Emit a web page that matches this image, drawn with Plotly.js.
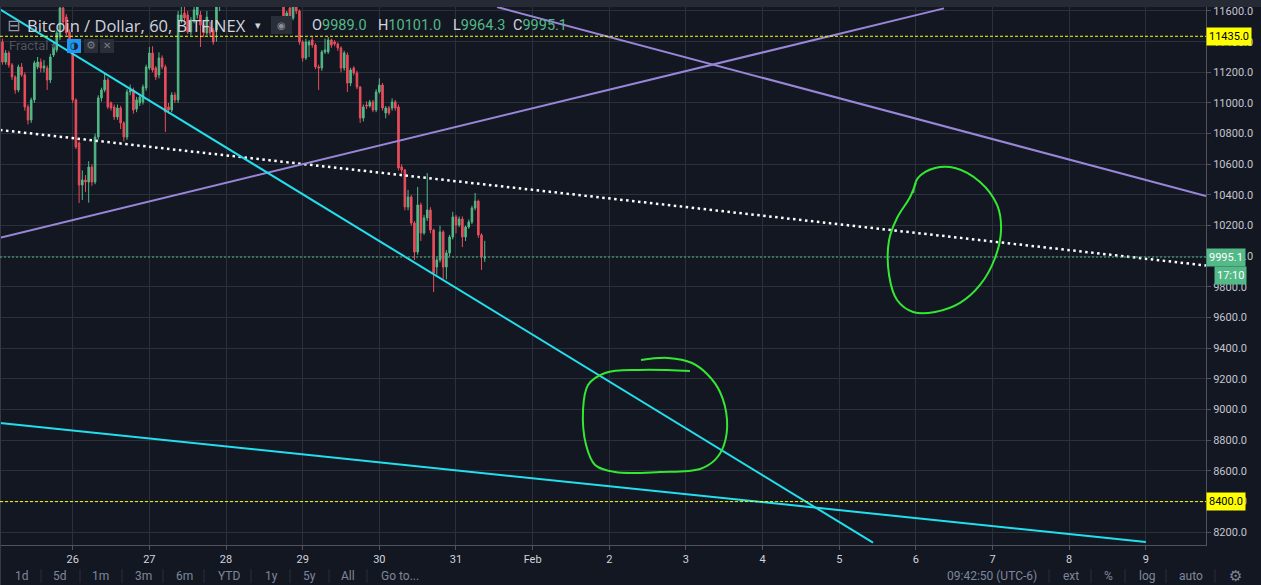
<!DOCTYPE html>
<html><head><meta charset="utf-8">
<script src="https://cdn.plot.ly/plotly-3.0.1.min.js"></script>
<style>html,body{margin:0;padding:0;background:#131722;overflow:hidden}#chart{width:1261px;height:585px}</style>
</head><body><div id="chart"></div>
<script>
// ---- Hourly candles, Bitfinex BTC/USD, 60 min ----
const times = [
'2018-01-25 01','2018-01-25 02','2018-01-25 03','2018-01-25 04','2018-01-25 05','2018-01-25 06','2018-01-25 07','2018-01-25 08','2018-01-25 09','2018-01-25 10','2018-01-25 11','2018-01-25 12','2018-01-25 13','2018-01-25 14','2018-01-25 15','2018-01-25 16','2018-01-25 17','2018-01-25 18','2018-01-25 19','2018-01-25 20','2018-01-25 21','2018-01-25 22','2018-01-25 23',
'2018-01-26 00','2018-01-26 01','2018-01-26 02','2018-01-26 03','2018-01-26 04','2018-01-26 05','2018-01-26 06','2018-01-26 07','2018-01-26 08','2018-01-26 09','2018-01-26 10','2018-01-26 11','2018-01-26 12','2018-01-26 13','2018-01-26 14','2018-01-26 15','2018-01-26 16','2018-01-26 17','2018-01-26 18','2018-01-26 19','2018-01-26 20','2018-01-26 21','2018-01-26 22','2018-01-26 23',
'2018-01-27 00','2018-01-27 01','2018-01-27 02','2018-01-27 03','2018-01-27 04','2018-01-27 05','2018-01-27 06','2018-01-27 07','2018-01-27 08','2018-01-27 09','2018-01-27 10','2018-01-27 11','2018-01-27 12','2018-01-27 13','2018-01-27 14','2018-01-27 15','2018-01-27 16','2018-01-27 17','2018-01-27 18','2018-01-27 19','2018-01-27 20','2018-01-27 21','2018-01-27 22','2018-01-27 23',
'2018-01-28 00','2018-01-28 01','2018-01-28 02','2018-01-28 03','2018-01-28 04','2018-01-28 05','2018-01-28 06','2018-01-28 07','2018-01-28 08','2018-01-28 09','2018-01-28 10','2018-01-28 11','2018-01-28 12','2018-01-28 13','2018-01-28 14','2018-01-28 15','2018-01-28 16','2018-01-28 17','2018-01-28 18','2018-01-28 19','2018-01-28 20','2018-01-28 21','2018-01-28 22','2018-01-28 23',
'2018-01-29 00','2018-01-29 01','2018-01-29 02','2018-01-29 03','2018-01-29 04','2018-01-29 05','2018-01-29 06','2018-01-29 07','2018-01-29 08','2018-01-29 09','2018-01-29 10','2018-01-29 11','2018-01-29 12','2018-01-29 13','2018-01-29 14','2018-01-29 15','2018-01-29 16','2018-01-29 17','2018-01-29 18','2018-01-29 19','2018-01-29 20','2018-01-29 21','2018-01-29 22','2018-01-29 23',
'2018-01-30 00','2018-01-30 01','2018-01-30 02','2018-01-30 03','2018-01-30 04','2018-01-30 05','2018-01-30 06','2018-01-30 07','2018-01-30 08','2018-01-30 09','2018-01-30 10','2018-01-30 11','2018-01-30 12','2018-01-30 13','2018-01-30 14','2018-01-30 15','2018-01-30 16','2018-01-30 17','2018-01-30 18','2018-01-30 19','2018-01-30 20','2018-01-30 21','2018-01-30 22','2018-01-30 23',
'2018-01-31 00','2018-01-31 01','2018-01-31 02','2018-01-31 03','2018-01-31 04','2018-01-31 05','2018-01-31 06','2018-01-31 07','2018-01-31 08','2018-01-31 09'
];
const open = [
11346,11398,11267,11326,11248,11170,11085,11235,11183,10974,10889,11020,11235,11267,11228,11228,11150,11313,11346,11430,11620,11561,11463,
11365,11020,10739,10465,10498,10485,10582,10485,10778,11033,11085,11150,11000,10974,10909,10967,10870,10778,11072,11085,10961,11000,11007,11098,
11228,11326,11228,11183,11293,11235,10974,10954,11052,11020,11541,11587,11574,11463,11541,11574,11574,11509,11457,11495,11476,11476,11640,11720,
11780,11750,11830,11900,11860,11920,11880,11950,11900,11850,11880,11820,11860,11800,11840,11780,11760,11750,11800,11509,11620,11554,11660,11600,
11398,11293,11378,11411,11378,11235,11228,11333,11333,11411,11398,11385,11359,11228,11313,11130,11228,11196,11104,10902,10987,10980,11007,10954,
11072,11117,10935,10967,10967,11007,10974,10582,10563,10322,10387,10217,10028,10335,10152,10250,10302,10172,9930,9976,10159,9930,10022,10126,
10257,10204,10243,10126,10191,10224,10315,10360,10139,9989
];
const high = [
11400,11420,11345,11340,11260,11180,11250,11260,11200,10990,11035,11275,11300,11290,11280,11245,11320,11390,11470,11660,11660,11580,11480,
11380,11030,10750,10560,10530,10620,10600,10800,11050,11100,11196,11165,11010,10990,10990,10980,10880,11090,11120,11100,11040,11050,11120,11250,
11365,11370,11240,11330,11310,11250,11000,11070,11070,11600,11640,11650,11600,11560,11650,11700,11600,11540,11600,11530,11490,11700,11760,11820,
11810,11870,11950,11930,11980,11950,12000,11980,11930,11910,11900,11890,11880,11870,11860,11800,11790,11850,11820,11600,11640,11690,11700,11610,
11410,11420,11410,11430,11390,11250,11345,11420,11430,11420,11410,11395,11370,11340,11330,11230,11240,11210,11110,10990,11010,11020,11020,11090,
11160,11130,10980,10980,11030,11020,10990,10600,10570,10433,10400,10230,10452,10350,10270,10543,10320,10180,9990,10200,10170,10040,10140,10290,
10270,10260,10260,10200,10240,10330,10413,10370,10150,10101
];
const low = [
11320,11250,11250,11230,11150,11060,11070,11170,10950,10860,10870,11000,11220,11200,11200,11085,11130,11300,11330,11410,11510,11440,11360,
11000,10700,10348,10367,10420,10350,10460,10470,10760,11010,11070,10960,10950,10890,10890,10830,10750,10760,11050,10930,10940,10980,10990,11080,
11215,11200,11150,11160,11220,10811,10930,10940,11000,11000,11520,11530,11450,11440,11520,11550,11365,11430,11440,11430,11380,11400,11600,11690,
11720,11730,11800,11820,11840,11850,11860,11870,11820,11800,11790,11790,11770,11760,11740,11720,11700,11700,11490,11490,11540,11540,11580,11380,
11270,11280,11300,11360,11220,11085,11210,11320,11320,11360,11370,11340,11200,11210,11072,11110,11180,11090,10870,10880,10960,10970,10940,10940,
11060,10950,10900,10920,10950,10950,10560,10540,10300,10300,10200,9976,10010,10100,10140,10230,10150,9767,9880,9960,9850,9850,10000,10110,
10150,10190,10060,10100,10180,10210,10300,10120,9911,9964.3
];
const close = [
11378,11267,11326,11248,11170,11085,11235,11183,10974,10889,11020,11261,11267,11228,11241,11150,11300,11365,11457,11620,11528,11457,11378,
11020,10713,10465,10498,10485,10582,10485,10778,11033,11085,11150,10974,10967,10909,10967,10870,10778,11072,11085,10954,11020,11039,11104,11235,
11326,11215,11170,11293,11235,10941,10954,11052,11020,11574,11574,11554,11463,11541,11607,11660,11509,11457,11560,11457,11398,11640,11720,11780,
11750,11830,11900,11860,11920,11880,11950,11900,11850,11880,11820,11860,11800,11840,11780,11760,11750,11800,11509,11587,11554,11640,11600,11398,
11293,11398,11398,11378,11235,11228,11333,11346,11411,11378,11385,11359,11228,11326,11130,11215,11196,11104,10902,10974,10980,11007,10954,11072,
11117,10967,10967,10935,11007,10967,10576,10563,10322,10387,10217,10028,10335,10152,10250,10302,10172,9891,9976,10159,9930,10022,10126,10257,
10204,10243,10126,10191,10224,10315,10360,10139,9996,9995.1
];

// ---- Axis ticks ----
const dayTicks = ['2018-01-26','2018-01-27','2018-01-28','2018-01-29','2018-01-30','2018-01-31','2018-02-01','2018-02-02','2018-02-03','2018-02-04','2018-02-05','2018-02-06','2018-02-07','2018-02-08','2018-02-09'];
const dayLabels = ['26','27','28','29','30','31','Feb','2','3','4','5','6','7','8','9'];
const xRange = ['2018-01-25 01:14','2018-02-09 18:50'];
const yRange = [8117, 11626];

// ---- Drawn objects (date, price) ----
const cyanSteepX = ['2018-01-25 01:14','2018-02-05 10:35'], cyanSteepY = [11611, 8132];
const cyanFlatX = ['2018-01-25 01:14','2018-02-09 00:00'], cyanFlatY = [8913, 8137];
const purpleUpX = ['2018-01-25 01:14','2018-02-06 08:48'], purpleUpY = [10121, 11617];
const purpleDownX = ['2018-01-31 12:52','2018-02-09 18:50'], purpleDownY = [11626, 10393];
const dottedX = ['2018-01-25 01:14','2018-02-09 18:50'], dottedY = [10824, 9940];
const levelLines = [11435.0, 8400.0];
const circleAX = ['2018-02-05 23:07','2018-02-06 00:40','2018-02-06 06:00','2018-02-06 12:16','2018-02-06 20:05','2018-02-07 01:25','2018-02-07 02:40','2018-02-07 00:47','2018-02-06 20:05','2018-02-06 13:49','2018-02-06 06:00','2018-02-05 23:07','2018-02-05 18:06','2018-02-05 15:36','2018-02-05 15:36','2018-02-05 18:06','2018-02-05 22:11','2018-02-06 00:00'];
const circleAY = [10413,10511,10576,10576,10485,10335,10172,9989,9813,9696,9637,9637,9715,9878,10106,10250,10387,10480];
const circleBX = ['2018-02-02 09:56','2018-02-02 18:23','2018-02-03 01:55','2018-02-03 06:55','2018-02-03 10:40','2018-02-03 12:52','2018-02-03 11:55','2018-02-03 09:06','2018-02-03 04:25','2018-02-02 15:53','2018-02-02 01:48','2018-02-01 19:33','2018-02-01 16:44','2018-02-01 15:47','2018-02-01 17:21','2018-02-01 22:41','2018-02-02 09:37','2018-02-03 01:16'];
const circleBY = [9324,9337,9304,9226,9115,8933,8769,8672,8613,8593,8593,8639,8769,8998,9161,9239,9259,9252];

// ---- UI texts ----
const symbolTitle = 'Bitcoin / Dollar, 60, BITFINEX';
const ohlcLetters = ['O','H','L','C'];
const countdown = '17:10';
const rangeButtons = ['1d','5d','1m','3m','6m','YTD','1y','5y','All','Go to...'];
const rightButtons = ['09:42:50 (UTC-6)','ext','%','log','auto','\u2699'];

// ---- Layout helpers (pixel -> paper) ----
const W = 1206, TOP = 7, BOT = 545;
const px = x => x / W;
const py = y => (BOT - y) / (BOT - TOP);

const GREEN = '#53b987', RED = '#eb4d5c';
const last = close.length - 1;

const traces = [
  {type:'candlestick', x:times, open:open, high:high, low:low, close:close,
   increasing:{line:{color:GREEN,width:1}, fillcolor:GREEN},
   decreasing:{line:{color:RED,width:1}, fillcolor:RED},
   whiskerwidth:0, hoverinfo:'skip', showlegend:false},
  {type:'scatter', mode:'lines', x:dottedX, y:dottedY, line:{color:'#ffffff', width:2.5, dash:'2.5px,3.5px'}, hoverinfo:'skip', showlegend:false},
  {type:'scatter', mode:'lines', x:purpleUpX, y:purpleUpY, line:{color:'#9a86d8', width:2}, hoverinfo:'skip', showlegend:false},
  {type:'scatter', mode:'lines', x:purpleDownX, y:purpleDownY, line:{color:'#9a86d8', width:2}, hoverinfo:'skip', showlegend:false},
  {type:'scatter', mode:'lines', x:cyanSteepX, y:cyanSteepY, line:{color:'#22dfee', width:2}, hoverinfo:'skip', showlegend:false},
  {type:'scatter', mode:'lines', x:cyanFlatX, y:cyanFlatY, line:{color:'#22dfee', width:2}, hoverinfo:'skip', showlegend:false},
  {type:'scatter', mode:'lines', x:circleAX, y:circleAY, line:{color:'#33e833', width:2, shape:'spline', smoothing:1}, hoverinfo:'skip', showlegend:false},
  {type:'scatter', mode:'lines', x:circleBX, y:circleBY, line:{color:'#33e833', width:2, shape:'spline', smoothing:1}, hoverinfo:'skip', showlegend:false}
];

const shapes = [];
const annotations = [];
// top band
shapes.push({type:'rect', xref:'paper', yref:'paper', x0:0, x1:1261/W, y0:1, y1:py(0), fillcolor:'#262a35', line:{width:0}, layer:'above'});
// left border
shapes.push({type:'line', xref:'paper', yref:'paper', x0:px(0.5), x1:px(0.5), y0:py(585), y1:py(7), line:{color:'#363a45', width:1}});
// level lines
levelLines.forEach(v => {
  shapes.push({type:'line', xref:'paper', yref:'y', x0:0, x1:1, y0:v, y1:v, line:{color:'#ffff00', width:1, dash:'3px,2px'}});
  annotations.push({xref:'paper', yref:'y', x:1, y:v, xanchor:'left', yanchor:'middle', showarrow:false,
    text:v.toFixed(1), font:{family:'Roboto', size:11, color:'#000000'}, bgcolor:'#ffff00', borderpad:2});
});
// last price line + labels
shapes.push({type:'line', xref:'paper', yref:'y', x0:0, x1:1, y0:close[last], y1:close[last], line:{color:GREEN, width:1, dash:'2px,2px'}});
annotations.push({xref:'paper', yref:'y', x:1, y:close[last], xanchor:'left', yanchor:'middle', showarrow:false,
  text:close[last].toFixed(1), font:{family:'Roboto', size:11, color:'#ffffff'}, bgcolor:GREEN, borderpad:2});
annotations.push({xref:'paper', yref:'y', x:1, y:close[last], xanchor:'left', yanchor:'middle', showarrow:false, xshift:8, yshift:-18,
  text:countdown, font:{family:'Roboto', size:11, color:'#ffffff'}, bgcolor:GREEN, borderpad:2});

// header
const hdr = (text, x, y, size, color, anchor, family) => annotations.push({xref:'paper', yref:'paper', x:px(x), y:py(y),
  xanchor:anchor||'center', yanchor:'middle', showarrow:false, text:text, font:{family:family||'Roboto', size:size, color:color}});
hdr('\u229F', 13, 25, 16, '#9598a1', 'center', 'DejaVu Sans');
hdr(symbolTitle, 25, 25, 16.5, '#d1d4dc', 'left', 'Open Sans');
hdr('\u25BE', 258, 25, 11, '#d1d4dc', 'center', 'DejaVu Sans');
shapes.push({type:'rect', xref:'paper', yref:'paper', x0:px(271), x1:px(292), y0:py(34), y1:py(16), fillcolor:'#2a2e39', line:{width:0}, layer:'above'});
hdr('\u25C9', 281.5, 25, 10, '#8a8e99', 'center', 'DejaVu Sans');
const ohlcVals = [open[last], high[last], low[last], close[last]];
const ohlcX = [310, 376, 451, 511];
ohlcLetters.forEach((l, i) => hdr(l + '<span style="color:' + GREEN + '">' + ohlcVals[i].toFixed(1) + '</span>', ohlcX[i], 25, 14.5, '#d1d4dc', 'left'));
hdr('Fractal', 7, 46, 13, '#50535e', 'left');
hdr('\u25BE', 53, 46, 10, '#50535e', 'center', 'DejaVu Sans');
shapes.push({type:'rect', xref:'paper', yref:'paper', x0:px(67), x1:px(81), y0:py(53), y1:py(39), fillcolor:'#2196f3', line:{width:0}, layer:'above'});
hdr('\u25D1', 74, 46, 10, '#1a2433', 'center', 'DejaVu Sans');
shapes.push({type:'rect', xref:'paper', yref:'paper', x0:px(84), x1:px(98), y0:py(53), y1:py(39), fillcolor:'#2a2e39', line:{width:0}, layer:'above'});
hdr('\u2699', 91, 46, 11, '#787b86', 'center', 'DejaVu Sans');
shapes.push({type:'rect', xref:'paper', yref:'paper', x0:px(100), x1:px(114), y0:py(53), y1:py(39), fillcolor:'#2a2e39', line:{width:0}, layer:'above'});
hdr('\u2715', 107, 46, 10, '#787b86', 'center', 'DejaVu Sans');

// bottom toolbar
const rangeX = [21.6, 60, 101, 143, 184.5, 228.6, 271, 309, 348, 400];
rangeButtons.forEach((t, i) => hdr(t, rangeX[i], 576, 12, '#7d879b', 'center'));
const rightX = [992, 1071, 1108, 1147, 1191, 1235];
rightButtons.forEach((t, i) => hdr(t, rightX[i], 576, i === 5 ? 15 : 12, '#7d879b', 'center', i === 5 ? 'DejaVu Sans' : 'Roboto'));
[41, 80, 122, 163, 204, 251, 290, 329, 367, 1049, 1091, 1125, 1166, 1215].forEach(x =>
  shapes.push({type:'line', xref:'paper', yref:'paper', x0:px(x), x1:px(x), y0:py(583), y1:py(569), line:{color:'#2a2e39', width:1}}));

const layout = {
  width:1261, height:585, autosize:false,
  margin:{l:0, r:55, t:7, b:40, pad:0},
  paper_bgcolor:'#131722', plot_bgcolor:'#131722',
  showlegend:false, hovermode:false, dragmode:false,
  xaxis:{type:'date', range:xRange, tickmode:'array', tickvals:dayTicks, ticktext:dayLabels,
    showgrid:true, gridcolor:'#2c303b', gridwidth:1, showline:true, linecolor:'#50535e', linewidth:1,
    ticks:'outside', ticklen:4, tickcolor:'#50535e', zeroline:false,
    tickfont:{family:'Roboto', size:11, color:'#d1d4dc'}, rangeslider:{visible:false}, fixedrange:true},
  yaxis:{range:yRange, side:'right', tick0:0, dtick:200, tickformat:'.1f',
    showgrid:true, gridcolor:'#2c303b', gridwidth:1, showline:true, linecolor:'#50535e', linewidth:1,
    ticks:'outside', ticklen:4, tickcolor:'#50535e', zeroline:false,
    tickfont:{family:'Roboto', size:11, color:'#c3c6ce'}, fixedrange:true},
  shapes:shapes, annotations:annotations
};

Plotly.newPlot('chart', traces, layout, {displayModeBar:false, staticPlot:true});
</script>
</body></html>
